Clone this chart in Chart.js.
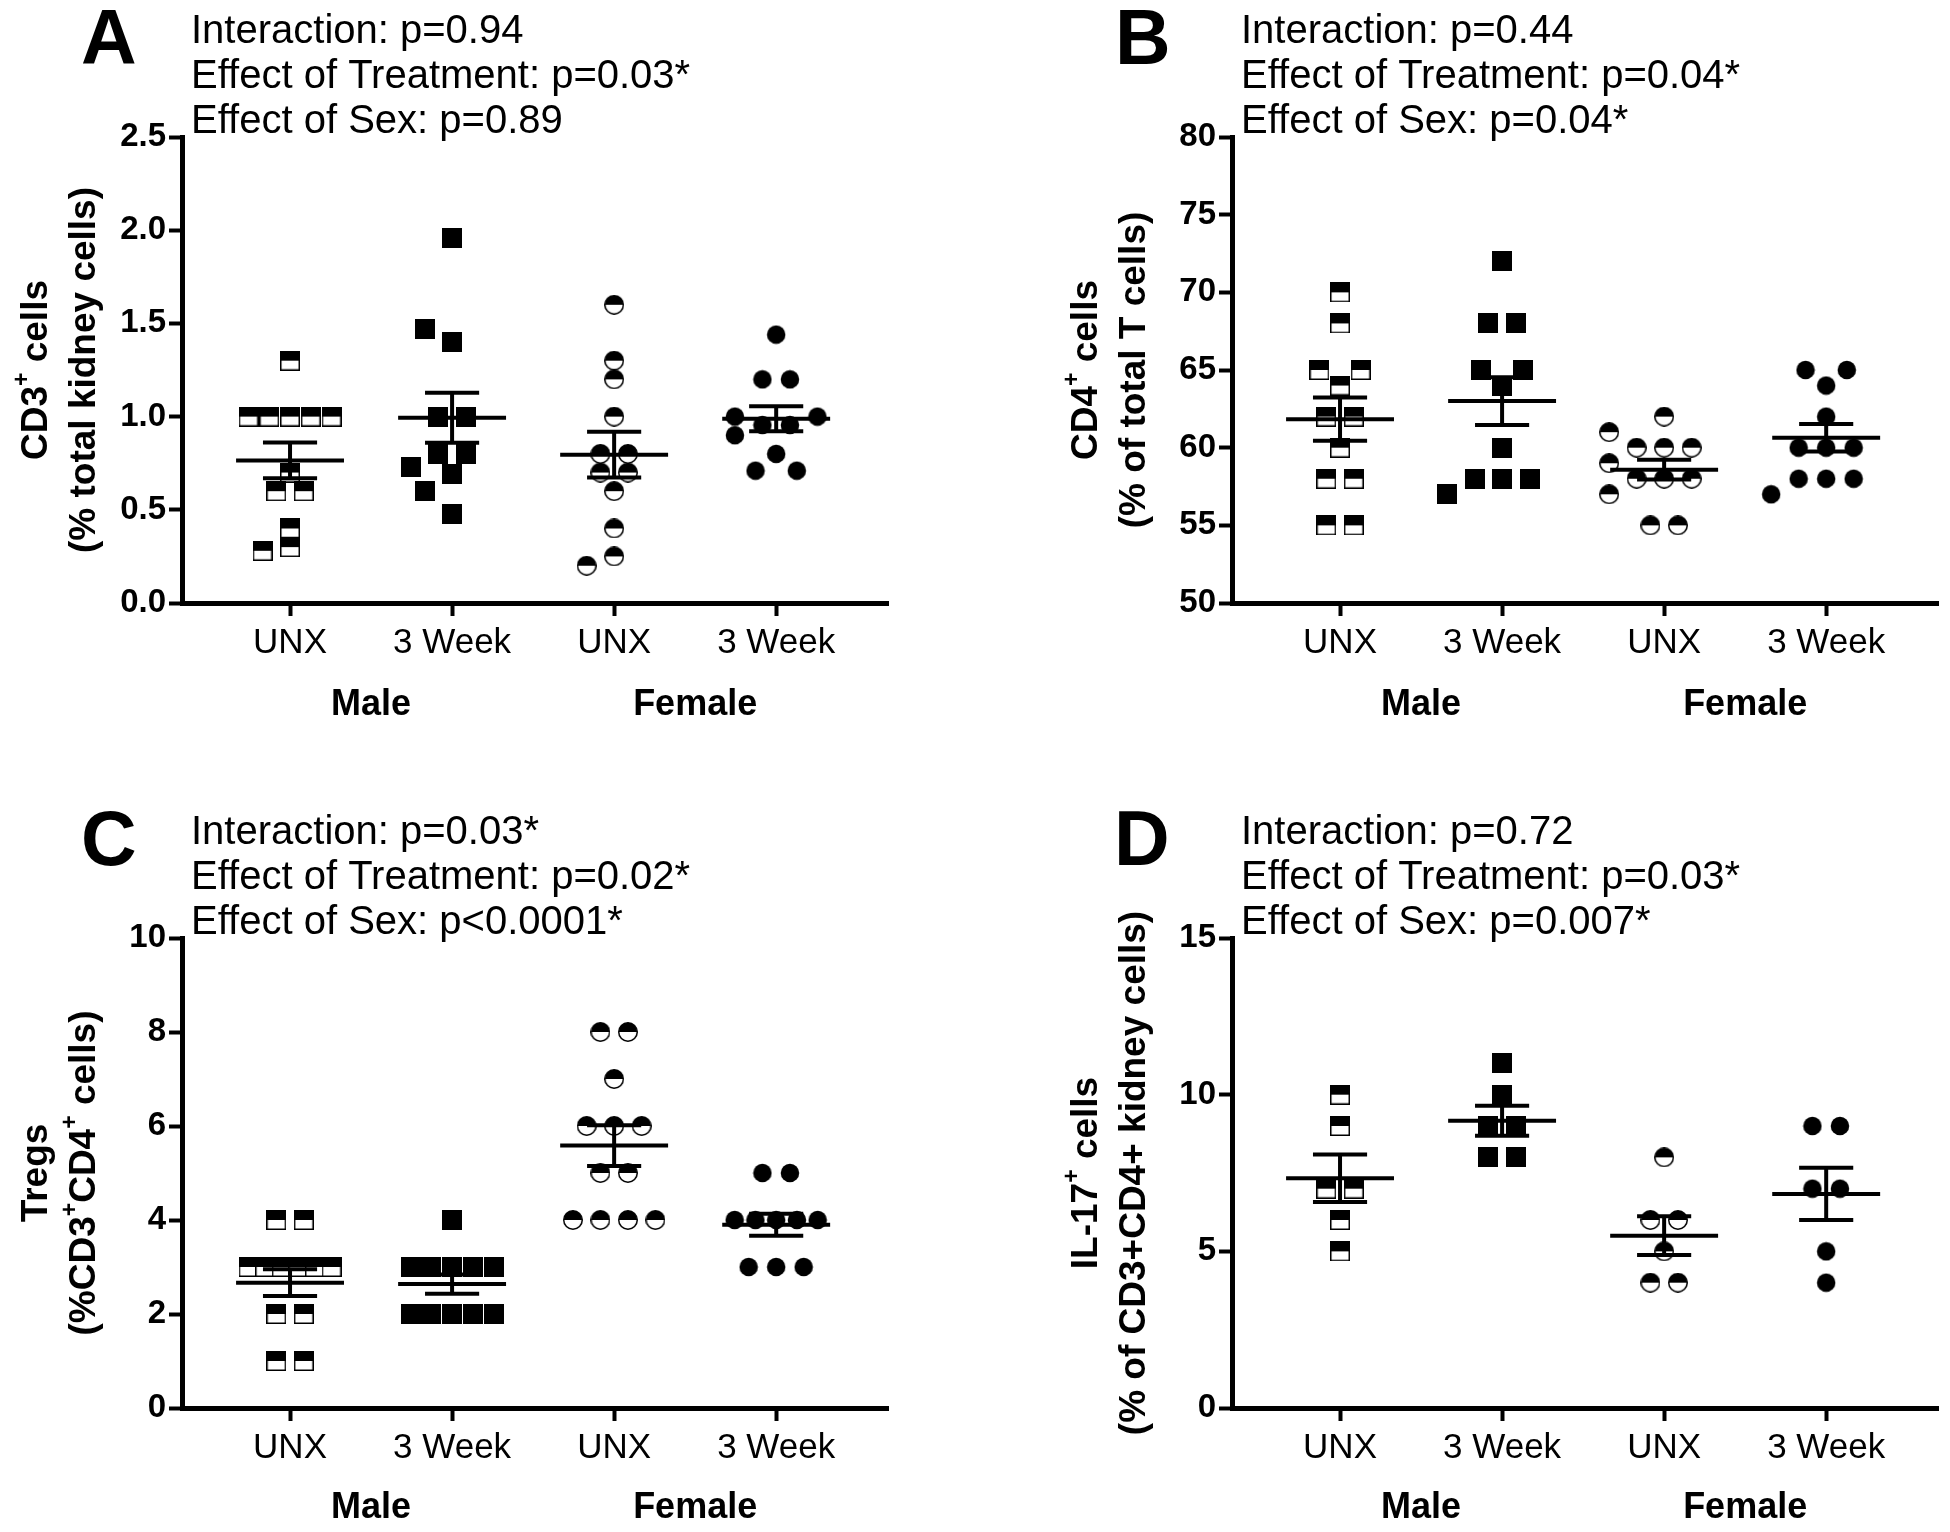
<!DOCTYPE html>
<html>
<head>
<meta charset="utf-8">
<script src="https://cdn.jsdelivr.net/npm/chart.js@4.4.0/dist/chart.umd.min.js"></script>
<style>
body { margin: 0; background: #fff; width: 1950px; height: 1532px; position: relative; overflow: hidden; }
canvas { position: absolute; }
</style>
</head>
<body>
<canvas id="chartA" width="1050" height="766" style="left:0;top:0"></canvas>
<canvas id="chartB" width="900" height="766" style="left:1050px;top:0"></canvas>
<canvas id="chartC" width="1050" height="766" style="left:0;top:766px"></canvas>
<canvas id="chartD" width="900" height="766" style="left:1050px;top:766px"></canvas>
<script>
// nhom tren truc hoanh
var treatmentLabels = ['UNX', '3 Week', 'UNX', '3 Week'];
var sexLabels = ['Male', 'Female'];

// A - CD3+ cells (% total kidney cells)
var cd3MaleUnx = [1.30, 1.0, 1.0, 1.0, 1.0, 1.0, 0.7, 0.6, 0.6, 0.4, 0.28, 0.3];
var cd3Male3wk = [1.96, 1.47, 1.40, 1.0, 1.0, 0.8, 0.8, 0.73, 0.69, 0.60, 0.48];
var cd3FemaleUnx = [1.60, 1.30, 1.20, 1.0, 0.8, 0.8, 0.7, 0.7, 0.6, 0.4, 0.25, 0.2];
var cd3Female3wk = [1.44, 1.20, 1.20, 1.0, 1.0, 0.955, 0.955, 0.9, 0.8, 0.71, 0.71];
var yTicksA = [0, 0.5, 1, 1.5, 2, 2.5];
var yLabelsA = ['0.0', '0.5', '1.0', '1.5', '2.0', '2.5'];

// B - CD4+ cells (% of total T cells)
var cd4MaleUnx = [70, 68, 65, 65, 64, 62, 62, 60, 58, 58, 55, 55];
var cd4Male3wk = [72, 68, 68, 65, 65, 64, 60, 58, 58, 58, 57];
var cd4FemaleUnx = [62, 61, 60, 60, 60, 59, 58, 58, 58, 57, 55, 55];
var cd4Female3wk = [65, 65, 64, 62, 60, 60, 60, 58, 58, 58, 57];
var yTicksB = [50, 55, 60, 65, 70, 75, 80];
var yLabelsB = ['50', '55', '60', '65', '70', '75', '80'];

// C - Tregs (%CD3+CD4+ cells)
var tregMaleUnx = [4, 4, 3, 3, 3, 3, 3, 3, 2, 2, 1, 1];
var tregMale3wk = [4, 3, 3, 3, 3, 3, 2, 2, 2, 2, 2];
var tregFemaleUnx = [8, 8, 7, 6, 6, 6, 5, 5, 4, 4, 4, 4];
var tregFemale3wk = [5, 5, 4, 4, 4, 4, 4, 3, 3, 3];
var yTicksC = [0, 2, 4, 6, 8, 10];
var yLabelsC = ['0', '2', '4', '6', '8', '10'];

// D - IL-17+ cells
var il17MaleUnx = [10, 9, 7, 7, 6, 5];
var il17Male3wk = [11, 10, 9, 9, 8, 8];
var il17FemaleUnx = [8, 6, 6, 5, 4, 4];
var il17Female3wk = [9, 9, 7, 7, 5, 4];
var yTicksD = [0, 5, 10, 15];
var yLabelsD = ['0', '5', '10', '15'];

var pLinesA = ['Interaction: p=0.94', 'Effect of Treatment: p=0.03*', 'Effect of Sex: p=0.89'];
var pLinesB = ['Interaction: p=0.44', 'Effect of Treatment: p=0.04*', 'Effect of Sex: p=0.04*'];
var pLinesC = ['Interaction: p=0.03*', 'Effect of Treatment: p=0.02*', 'Effect of Sex: p<0.0001*'];
var pLinesD = ['Interaction: p=0.72', 'Effect of Treatment: p=0.03*', 'Effect of Sex: p=0.007*'];

// ^ = ky tu tiep theo la chi so tren
var titleA = ['CD3^+ cells', '(% total kidney cells)'];
var titleB = ['CD4^+ cells', '(% of total T cells)'];
var titleC = ['Tregs', '(%CD3^+CD4^+ cells)'];
var titleD = ['IL-17^+ cells', '(% of CD3+CD4+ kidney cells)'];

var fontFamily = '"Liberation Sans", Arial, Helvetica, sans-serif';
Chart.defaults.font.family = fontFamily;
Chart.defaults.color = '#000';

function makeMarker(shape, half) {
	var size = 20;
	var c = document.createElement('canvas');
	c.width = size;
	c.height = size;
	var ctx = c.getContext('2d');
	ctx.fillStyle = '#000';
	ctx.strokeStyle = '#000';
	ctx.lineWidth = 1.5;
	if (shape == 'rect') {
		if (half) {
			ctx.fillStyle = '#fff';
			ctx.fillRect(0, 0, size, size);
			ctx.fillStyle = '#000';
			ctx.fillRect(0, 0, size, size / 2);
			ctx.strokeRect(0.75, 0.75, size - 1.5, size - 1.5);
		} else {
			ctx.fillRect(0, 0, size, size);
		}
	} else {
		var r = size / 2 - 0.75;
		ctx.beginPath();
		ctx.arc(size / 2, size / 2, r, 0, Math.PI * 2);
		if (half) {
			ctx.fillStyle = '#fff';
			ctx.fill();
			ctx.beginPath();
			ctx.arc(size / 2, size / 2, r, Math.PI, 0);
			ctx.closePath();
			ctx.fillStyle = '#000';
			ctx.fill();
			ctx.beginPath();
			ctx.arc(size / 2, size / 2, r, 0, Math.PI * 2);
			ctx.stroke();
		} else {
			ctx.fill();
		}
	}
	return c;
}

var markers = [makeMarker('rect', true), makeMarker('rect', false), makeMarker('circle', true), makeMarker('circle', false)];

// xep cac diem trung nhau sang ngang (kieu scatter dot plot), bat dau tu gan trung vi
function swarmOffsets(values, pxY, pxX) {
	var s = 20, d = 27.5, maxSpan = 83;
	var sorted = values.slice().sort((a, b) => a - b);
	var n0 = sorted.length;
	var median = n0 % 2 ? sorted[(n0 - 1) / 2] : (sorted[n0 / 2 - 1] + sorted[n0 / 2]) / 2;
	var rows = [];
	values.forEach((v, i) => {
		var row = rows.find(r => r.v == v);
		if (row) row.idx.push(i);
		else rows.push({ v: v, idx: [i] });
	});
	rows.sort((a, b) => (Math.abs(a.v - median) - Math.abs(b.v - median)) || (b.idx.length - a.idx.length));
	var placed = [];
	var off = values.map(() => 0);
	rows.forEach(row => {
		var n = row.idx.length;
		var y = row.v * pxY;
		var gap = n > 1 ? Math.min(d, maxSpan / (n - 1)) : 0;
		var cands = [];
		[1, 1.5, 2, 3].forEach(k => {
			[0, -0.5, 0.5, -1, 1, -1.5, 1.5, -2, 2, -2.5, 2.5, -3, 3].forEach(c => {
				var pos = row.idx.map((_, j) => c * d + (j - (n - 1) / 2) * gap * k);
				var ext = Math.max.apply(null, pos.map(Math.abs));
				cands.push({ pos: pos, score: ext + Math.abs(c) * 0.01 + k * 0.001 });
			});
		});
		cands.sort((a, b) => a.score - b.score);
		var chon = cands.find(cd => cd.pos.every(x => !placed.some(p => Math.abs(p.y - y) < s * 0.85 && Math.abs(p.x - x) < s * 0.95))) || cands[0];
		chon.pos.forEach((x, j) => {
			placed.push({ x: x, y: y });
			off[row.idx[j]] = x / pxX;
		});
	});
	return off;
}

function meanSem(values) {
	var n = values.length;
	var mean = values.reduce((a, b) => a + b, 0) / n;
	var ss = values.reduce((a, b) => a + (b - mean) * (b - mean), 0);
	return { mean: mean, sem: Math.sqrt(ss / (n - 1)) / Math.sqrt(n) };
}

var errorBarPlugin = {
	id: 'errorBars',
	afterDatasetsDraw(chart) {
		var ctx = chart.ctx;
		var x = chart.scales.x, y = chart.scales.y;
		ctx.save();
		ctx.strokeStyle = '#000';
		ctx.lineWidth = 4;
		ctx.lineCap = 'butt';
		chart.data.datasets.forEach((ds, i) => {
			var m = meanSem(ds.rawValues);
			var cx = i + 1;
			var seg = (x1, x2, y1, y2) => {
				ctx.beginPath();
				ctx.moveTo(x.getPixelForValue(x1), y.getPixelForValue(y1));
				ctx.lineTo(x.getPixelForValue(x2), y.getPixelForValue(y2));
				ctx.stroke();
			};
			seg(cx - 0.333, cx + 0.333, m.mean, m.mean);
			seg(cx - 0.167, cx + 0.167, m.mean + m.sem, m.mean + m.sem);
			seg(cx - 0.167, cx + 0.167, m.mean - m.sem, m.mean - m.sem);
			seg(cx, cx, m.mean - m.sem, m.mean + m.sem);
		});
		ctx.restore();
	}
};

function drawRotatedTitle(ctx, text, cx, cy, size) {
	var parts = [];
	for (var i = 0; i < text.length; i++) {
		if (text[i] == '^' && i + 1 < text.length) {
			parts.push({ t: text[i + 1], sup: true });
			i++;
		} else if (parts.length && !parts[parts.length - 1].sup) {
			parts[parts.length - 1].t += text[i];
		} else {
			parts.push({ t: text[i], sup: false });
		}
	}
	var fNormal = 'bold ' + size + 'px ' + fontFamily;
	var fSup = 'bold ' + Math.round(size * 0.62) + 'px ' + fontFamily;
	var total = 0;
	parts.forEach(p => {
		ctx.font = p.sup ? fSup : fNormal;
		p.w = ctx.measureText(p.t).width;
		total += p.w;
	});
	ctx.save();
	ctx.translate(cx, cy);
	ctx.rotate(-Math.PI / 2);
	ctx.textAlign = 'left';
	ctx.textBaseline = 'middle';
	var x = -total / 2;
	parts.forEach(p => {
		ctx.font = p.sup ? fSup : fNormal;
		ctx.fillText(p.t, x, p.sup ? -size * 0.4 : 0);
		x += p.w;
	});
	ctx.restore();
}

function makeTextPlugin(panel) {
	return {
		id: 'panelText',
		afterDraw(chart) {
			var ctx = chart.ctx, area = chart.chartArea;
			ctx.save();
			ctx.fillStyle = '#000';
			ctx.textAlign = 'left';
			ctx.textBaseline = 'alphabetic';
			ctx.font = 'bold 77px ' + fontFamily;
			ctx.fillText(panel.letter, area.left + panel.letterDx, area.top - 73);
			ctx.font = '40px ' + fontFamily;
			panel.pLines.forEach((t, k) => {
				ctx.fillText(t, area.left + 9, area.top - 94 + k * 45);
			});
			var cy = (area.top + area.bottom) / 2;
			panel.title.forEach((t, k) => {
				drawRotatedTitle(ctx, t, area.left - 145 + k * 48, cy, 37);
			});
			ctx.restore();
		}
	};
}

var panels = [
	{ id: 'chartA', letter: 'A', letterDx: -101, values: [cd3MaleUnx, cd3Male3wk, cd3FemaleUnx, cd3Female3wk], yTicks: yTicksA, yLabels: yLabelsA, pLines: pLinesA, title: titleA, padTop: 137, padRight: 162, x2Height: 97, x2Pad: 14 },
	{ id: 'chartB', letter: 'B', letterDx: -117, values: [cd4MaleUnx, cd4Male3wk, cd4FemaleUnx, cd4Female3wk], yTicks: yTicksB, yLabels: yLabelsB, pLines: pLinesB, title: titleB, padTop: 137, padRight: 12, x2Height: 97, x2Pad: 14 },
	{ id: 'chartC', letter: 'C', letterDx: -101, values: [tregMaleUnx, tregMale3wk, tregFemaleUnx, tregFemale3wk], yTicks: yTicksC, yLabels: yLabelsC, pLines: pLinesC, title: titleC, padTop: 172, padRight: 162, x2Height: 58, x2Pad: 12 },
	{ id: 'chartD', letter: 'D', letterDx: -118, values: [il17MaleUnx, il17Male3wk, il17FemaleUnx, il17Female3wk], yTicks: yTicksD, yLabels: yLabelsD, pLines: pLinesD, title: titleD, padTop: 172, padRight: 12, x2Height: 58, x2Pad: 12 }
];

var xMin = 1 / 3, xMax = 4.69;

panels.forEach(panel => {
	var canvas = document.getElementById(panel.id);
	var datasets = panel.values.map((vals, i) => ({
		rawValues: vals,
		data: vals.map(v => ({ x: i + 1, y: v })),
		pointStyle: markers[i],
		pointRadius: 10,
		pointHoverRadius: 10,
		showLine: false,
		clip: false
	}));
	var config = {
		type: 'scatter',
		data: { datasets: datasets },
		options: {
			responsive: false,
			animation: false,
			devicePixelRatio: 1,
			events: [],
			layout: { padding: { top: panel.padTop, right: panel.padRight, left: 0, bottom: 0 } },
			plugins: { legend: { display: false }, tooltip: { enabled: false } },
			scales: {
				x: {
					type: 'linear',
					position: 'bottom',
					weight: 0,
					min: xMin,
					max: xMax,
					afterBuildTicks: s => { s.ticks = treatmentLabels.map((_, i) => ({ value: i + 1 })); },
					afterFit: s => { s.height = 66; },
					ticks: {
						callback: v => treatmentLabels[Math.round(v) - 1],
						font: { size: 35 },
						color: '#000',
						padding: 6,
						autoSkip: false,
						maxRotation: 0
					},
					grid: { drawOnChartArea: false, tickLength: 13, tickWidth: 4, tickColor: '#000', color: '#000' },
					border: { display: true, color: '#000', width: 5 }
				},
				x2: {
					type: 'linear',
					position: 'bottom',
					weight: 1,
					min: xMin,
					max: xMax,
					afterBuildTicks: s => { s.ticks = sexLabels.map((_, i) => ({ value: 1.5 + 2 * i })); },
					afterFit: s => { s.height = panel.x2Height; },
					ticks: {
						callback: v => sexLabels[Math.round((v - 1.5) / 2)],
						font: { size: 36, weight: 'bold' },
						color: '#000',
						padding: panel.x2Pad,
						autoSkip: false,
						maxRotation: 0
					},
					grid: { display: false, drawTicks: false },
					border: { display: false }
				},
				y: {
					min: panel.yTicks[0],
					max: panel.yTicks[panel.yTicks.length - 1],
					afterBuildTicks: s => { s.ticks = panel.yTicks.map(v => ({ value: v })); },
					afterFit: s => { s.width = 182; },
					ticks: {
						callback: (v, i) => panel.yLabels[i],
						font: { size: 33, weight: 'bold' },
						color: '#000',
						padding: 3,
						autoSkip: false
					},
					grid: { drawOnChartArea: false, tickLength: 13, tickWidth: 4, tickColor: '#000', color: '#000' },
					border: { display: true, color: '#000', width: 5 }
				}
			}
		},
		plugins: [errorBarPlugin, makeTextPlugin(panel)]
	};
	var chart = new Chart(canvas.getContext('2d'), config);

	// dung thang do cua thu vien de tinh khoang cach giua cac diem
	var pxX = chart.scales.x.getPixelForValue(2) - chart.scales.x.getPixelForValue(1);
	var pxY = Math.abs(chart.scales.y.getPixelForValue(panel.yTicks[1]) - chart.scales.y.getPixelForValue(panel.yTicks[0])) / (panel.yTicks[1] - panel.yTicks[0]);
	chart.data.datasets.forEach((ds, i) => {
		var off = swarmOffsets(ds.rawValues, pxY, pxX);
		ds.data = ds.rawValues.map((v, j) => ({ x: i + 1 + off[j], y: v }));
	});
	chart.update('none');
});
</script>
</body>
</html>
